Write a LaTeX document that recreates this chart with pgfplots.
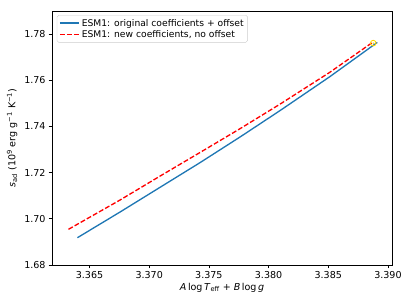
\documentclass[border=0pt]{standalone}
\usepackage{fontspec}
\setmainfont{DejaVu Sans}
\usepackage{pgfplots}
\pgfplotsset{compat=1.18}
\definecolor{mplblue}{HTML}{1F77B4}
\definecolor{sungold}{HTML}{FFD700}
\definecolor{legframe}{HTML}{CCCCCC}
\begin{document}
\begin{tikzpicture}
\path[use as bounding box] (-58.9pt,-45.3pt) rectangle (401.9pt,300pt);
\begin{axis}[
  at={(0,0)}, anchor=south west,
  scale only axis,
  width=384.9pt, height=287.5pt,
  xmin=3.36186, xmax=3.39034,
  ymin=1.68, ymax=1.79,
  xtick={3.365,3.370,3.375,3.380,3.385,3.390},
  ytick={1.68,1.70,1.72,1.74,1.76,1.78},
  xtick pos=left, ytick pos=left,
  tick align=outside,
  major tick length=3.8pt,
  every tick/.style={black, line width=0.8pt},
  axis line style={line width=0.8pt},
  tick label style={font=\fontsize{10.8}{13}\selectfont},
  /pgf/number format/assume math mode=true,
  xticklabel style={/pgf/number format/.cd, fixed, fixed zerofill, precision=3},
  yticklabel style={/pgf/number format/.cd, fixed, fixed zerofill, precision=2},
  scaled x ticks=false, scaled y ticks=false,
  xlabel={\textit{A}\,log\,\textit{T}\textsubscript{eff} + \textit{B}\,log\,\textit{g}},
  ylabel={\textit{s}\textsubscript{ad} (10\textsuperscript{9} erg g\textsuperscript{−1} K\textsuperscript{−1})},
  label style={font=\fontsize{10.8}{13}\selectfont},
  xlabel style={yshift=2pt},
  ylabel style={yshift=1pt},
  legend style={at={(0,1)}, anchor=north west, xshift=5.5pt, yshift=-4.5pt,
    draw=legframe, rounded corners=2pt, font=\fontsize{10.4}{12.5}\selectfont,
    row sep=-1pt, inner sep=2.5pt},
  legend cell align=left,
]
\addlegendimage{legend image code/.code={\draw[color=mplblue, line width=1.5pt] (0pt,0.5pt) -- (22pt,0.5pt);}}
\addlegendentry{ESM1: original coefficients + offset}
\addlegendimage{legend image code/.code={\draw[color=red, line width=1.5pt, dash pattern=on 5.55pt off 2.4pt] (0pt,0pt) -- (22pt,0pt);}}
\addlegendentry{ESM1: new coefficients, no offset}
\addplot[mplblue, line width=1.5pt, forget plot] coordinates {
(3.36399,1.69182) (3.36756,1.70294) (3.37091,1.71364) (3.37425,1.72430)
(3.37760,1.73540) (3.38094,1.74680) (3.38512,1.76152) (3.38911,1.77641)
};
\addplot[red, line width=1.5pt, dash pattern=on 5.55pt off 2.4pt, forget plot] coordinates {
(3.36324,1.69545) (3.36756,1.70814) (3.37091,1.71850) (3.37425,1.72870)
(3.37760,1.73900) (3.38094,1.74960) (3.38512,1.76342) (3.38866,1.77623)
};
\addplot[only marks, mark=o, mark size=3.2pt, sungold, line width=1pt, forget plot] coordinates {(3.38877,1.7761)};
\addplot[only marks, mark=*, mark size=0.7pt, sungold, forget plot] coordinates {(3.38877,1.7761)};
\end{axis}
\end{tikzpicture}
\end{document}
